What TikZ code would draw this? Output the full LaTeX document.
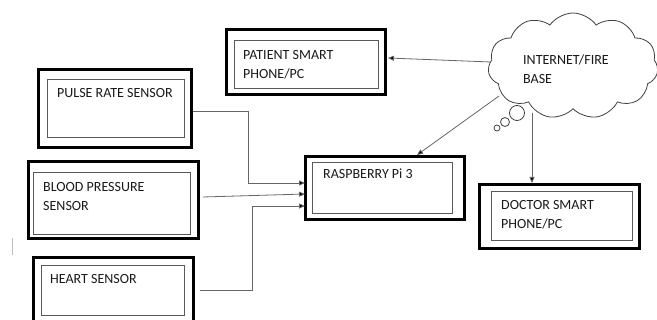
\documentclass[tikz,border=0pt]{standalone}
\usepackage{fontspec}
\setmainfont{Carlito}
\usetikzlibrary{shapes.symbols,arrows.meta}
\tikzset{
  outerbox/.style={draw=black,line width=3.2pt,inner sep=0pt},
  innerbox/.style={draw=black!65,line width=0.9pt},
  lbl/.style={anchor=base west,inner sep=0pt,font=\fontsize{14pt}{19pt}\selectfont,text=black!90},
  conn/.style={draw=black!60,line width=0.8pt},
  arr/.style={conn,-{Triangle[length=6pt,width=5pt,fill=black]}},
}
\begin{document}
\begin{tikzpicture}[x=1pt,y=-1pt]
\useasboundingbox (0,0) rectangle (657,320);
% pulse
\draw[outerbox] (38.5,69.5) rectangle (191.5,147.5);
\draw[innerbox] (47,79) rectangle (184,137);
\node[lbl] (pulsetxt) at (57,98) {PULSE RATE SENSOR};
\coordinate (pulseout) at (193,111);
% blood
\draw[outerbox] (28.5,161.5) rectangle (198.5,238.5);
\draw[innerbox] (33,172) rectangle (190,234);
\node[lbl,align=left] (bloodtxt) at (43,211) {BLOOD PRESSURE\\SENSOR};
\coordinate (bloodout) at (203,197);
% heart
\draw[outerbox] (33.5,257.5) rectangle (193.5,322);
\draw[innerbox] (41,265) rectangle (184,315);
\node[lbl] (hearttxt) at (50,284) {HEART SENSOR};
\coordinate (heartout) at (200,290);
% artifact
\draw[black!25,line width=1pt] (12,238) -- (12,255);
% raspberry
\draw[outerbox] (305.5,156.5) rectangle (464.5,219.5);
\draw[innerbox] (312,162) rectangle (452,213);
\node[lbl] (rpitxt) at (323,179) {RASPBERRY Pi 3};
\coordinate (rpi1) at (305,183);
\coordinate (rpi2) at (305,194);
\coordinate (rpi3) at (305,206);
\coordinate (rpitop) at (417,155);
% patient
\draw[outerbox] (226.5,29.5) rectangle (385.5,94.5);
\draw[innerbox] (234,40) rectangle (378,88);
\node[lbl,align=left] (pattxt) at (243,79) {PATIENT SMART\\PHONE/PC};
\coordinate (patin) at (388,58);
% doctor
\draw[outerbox] (479.5,184.5) rectangle (639.5,248.5);
\draw[innerbox] (491,191) rectangle (632,240);
\node[lbl,align=left] (doctxt) at (501,229) {DOCTOR SMART\\PHONE/PC};
\coordinate (docin) at (532,183);
% cloud
\node[cloud,draw=black!75,line width=0.8pt,fill=white,cloud puffs=11,cloud puff arc=110,cloud ignores aspect,minimum width=170pt,minimum height=106pt,inner sep=0pt] (cloud) at (573,66) {};
\node[lbl,align=left] (cloudtxt) at (523,84) {INTERNET/FIRE\\BASE};
\draw[draw=black!75,line width=0.8pt] (517,113) circle (7.5pt);
\draw[draw=black!75,line width=0.8pt] (505,122) circle (4.5pt);
\draw[draw=black!75,line width=0.8pt] (497,128) circle (3pt);
\coordinate (cl1) at (491,62);
\coordinate (cl2) at (499,96);
\coordinate (cl3) at (532,113);
% connectors
\draw[arr] (pulseout) -| (248,183) -- (rpi1);
\draw[arr] (bloodout) -- (rpi2);
\draw[arr] (heartout) -| (252,206) -- (rpi3);
\draw[arr] (cl1) -- (patin);
\draw[arr] (cl2) -- (rpitop);
\draw[arr] (cl3) -- (docin);
\end{tikzpicture}
\end{document}
